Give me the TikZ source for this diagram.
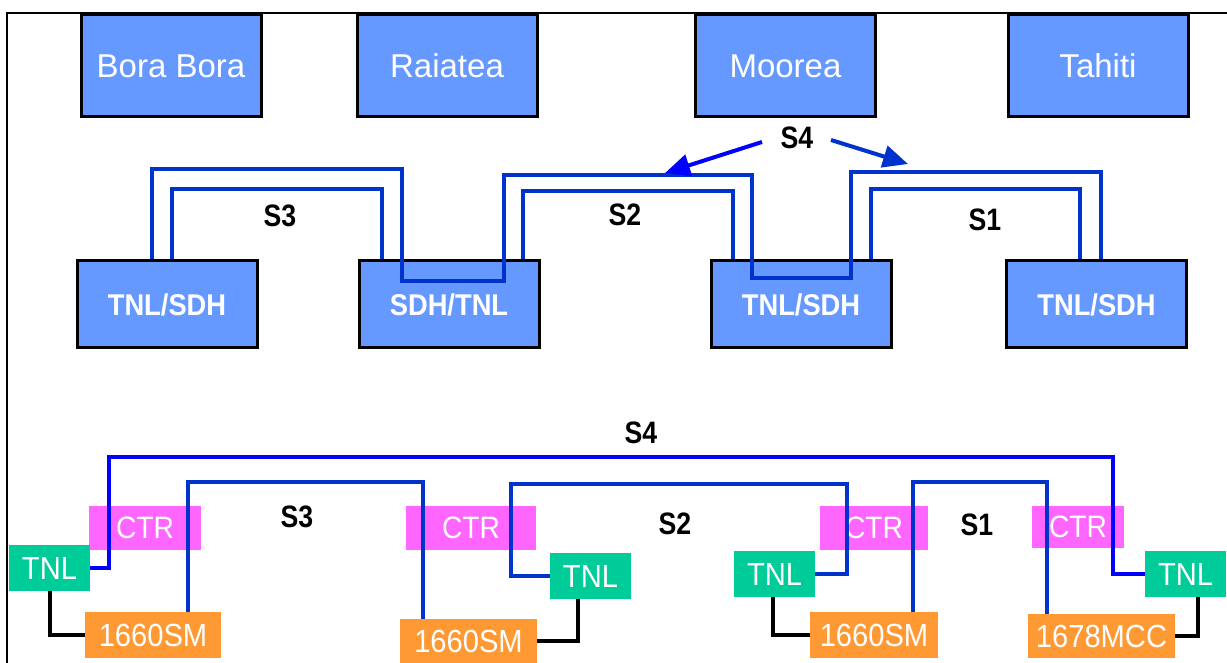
\documentclass[tikz,border=0pt]{standalone}
\usepackage{fontspec}
\setmainfont{Liberation Sans}
\newfontfamily\narrowfont{Liberation Sans}[FakeStretch=0.91]
\newfontfamily\labelfont{Liberation Sans}[FakeStretch=0.86]
\usetikzlibrary{arrows.meta}
\definecolor{boxblue}{HTML}{6699FF}
\definecolor{tnlgreen}{HTML}{00CC99}
\definecolor{ctrpink}{HTML}{FF66FF}
\definecolor{smorange}{HTML}{FF9933}
\definecolor{lineblue}{HTML}{0033CC}
\definecolor{pureblue}{HTML}{0000FF}
\begin{document}
\begin{tikzpicture}[x=0.5pt,y=-0.5pt,
  island/.style={draw=black, line width=1.5pt, fill=boxblue, text=white,
    minimum width=90pt, minimum height=51pt, inner sep=0pt,
    font=\fontsize{16.5}{18}\selectfont},
  midbox/.style={draw=black, line width=1.5pt, fill=boxblue, text=white,
    minimum width=90pt, minimum height=43.5pt, inner sep=0pt,
    font=\narrowfont\bfseries\fontsize{15}{17}\selectfont},
  tnlbox/.style={fill=tnlgreen, text=white, minimum width=40.5pt,
    minimum height=23pt, inner sep=0pt, font=\narrowfont\fontsize{16}{18}\selectfont},
  ctrbox/.style={fill=ctrpink, text=white, minimum height=22pt,
    inner sep=0pt, font=\narrowfont\fontsize{15.5}{17}\selectfont},
  smbox/.style={fill=smorange, text=white, minimum height=23pt,
    inner sep=0pt, font=\narrowfont\fontsize{16}{18}\selectfont},
  lbl/.style={text=black, inner sep=0pt, font=\labelfont\bfseries\fontsize{15.5}{17}\selectfont},
  sline/.style={draw=lineblue, line width=1.6pt},
  sfour/.style={draw=pureblue, line width=1.6pt},
  blk/.style={draw=black, line width=1.6pt},
  arr/.style={line width=2pt, -{Triangle[length=12.5pt,width=11pt]}}
]
\useasboundingbox (0,0) rectangle (1227,663);
\fill[white] (0,0) rectangle (1227,663);
% frame
\draw[line width=1.2pt] (7,663) -- (7,13) -- (1227,13);

% islands
\node[island] (bora) at (171,66) {Bora Bora};
\node[island] (raiatea) at (447,66) {Raiatea};
\node[island] (moorea) at (785.5,66) {Moorea};
\node[island] (tahiti) at (1098,66) {Tahiti};

% middle equipment
\node[midbox] (m1) at (167,304.5) {TNL/SDH};
\node[midbox] (m2) at (449,304.5) {SDH/TNL};
\node[midbox] (m3) at (801,304.5) {TNL/SDH};
\node[midbox] (m4) at (1096.5,304.5) {TNL/SDH};

% middle connections
\draw[sline] (m1.north -| 152,0) -- (152,169) -- (402,169) -- (402,281)
  -- (504,281) -- (504,175) -- (752,175) -- (752,278) -- (851,278)
  -- (851,172) -- (1101,172) -- (m4.north -| 1101,0);
\draw[sline] (m1.north -| 172,0) -- (172,189) -- (382,189) -- (m2.north -| 382,0);
\draw[sline] (m2.north -| 523,0) -- (523,191) -- (733,191) -- (m3.north -| 733,0);
\draw[sline] (m3.north -| 871,0) -- (871,189) -- (1080,189) -- (m4.north -| 1080,0);

\node[lbl] (s3a) at (280,216) {S3};
\node[lbl] (s2a) at (625,215) {S2};
\node[lbl] (s1a) at (985,220) {S1};
\node[lbl] (s4a) at (797,138) {S4};

\coordinate (al0) at (762,142);
\coordinate (al1) at (665,173);
\coordinate (ar0) at (831,140);
\coordinate (ar1) at (908,164);
\draw[arr, pureblue] (al0) -- (al1);
\draw[arr, lineblue] (ar0) -- (ar1);

% bottom equipment
\node[ctrbox, minimum width=56pt] (c1) at (145,528) {CTR};
\node[ctrbox, minimum width=65pt] (c2) at (471,528) {CTR};
\node[ctrbox, minimum width=54pt] (c3) at (874,528) {CTR};
\node[ctrbox, minimum width=46pt, minimum height=21pt] (c4) at (1078,527) {CTR};

\node[tnlbox] (t1) at (49.5,568) {TNL};
\node[tnlbox] (t2) at (590.5,576) {TNL};
\node[tnlbox] (t3) at (774.5,574) {TNL};
\node[tnlbox] (t4) at (1185.5,574) {TNL};

\node[smbox, minimum width=68pt] (sm1) at (153,635) {1660SM};
\node[smbox, minimum width=68.5pt, minimum height=22pt] (sm2) at (468.5,641) {1660SM};
\node[smbox, minimum width=64pt] (sm3) at (874,635) {1660SM};
\node[smbox, minimum width=73.5pt, minimum height=22pt] (mcc) at (1101.5,636) {1678MCC};

% bottom connections
\draw[sfour] (t1.east) -| (109,457) -| (t4.west -| 1113,0) -- (t4.west);
\draw[sline] (sm1.north -| 188,0) -- (188,482) -- (423,482) -- (sm2.north -| 423,0);
\draw[sline] (t2.west) -| (511,484) -| (t3.east -| 847,0) -- (t3.east);
\draw[sline] (sm3.north -| 913,0) -- (913,482) -- (1047,482) -- (mcc.north -| 1047,0);

\draw[blk] (t1.south -| 50,0) |- (sm1.west);
\draw[blk] (sm2.east) -| (t2.south -| 578,0);
\draw[blk] (t3.south -| 773,0) |- (sm3.west);
\draw[blk] (mcc.east) -| (t4.south -| 1198,0);

\node[lbl] (s4b) at (641,433) {S4};
\node[lbl] (s3b) at (297,517) {S3};
\node[lbl] (s2b) at (675,524) {S2};
\node[lbl] (s1b) at (977,525) {S1};
\end{tikzpicture}
\end{document}
